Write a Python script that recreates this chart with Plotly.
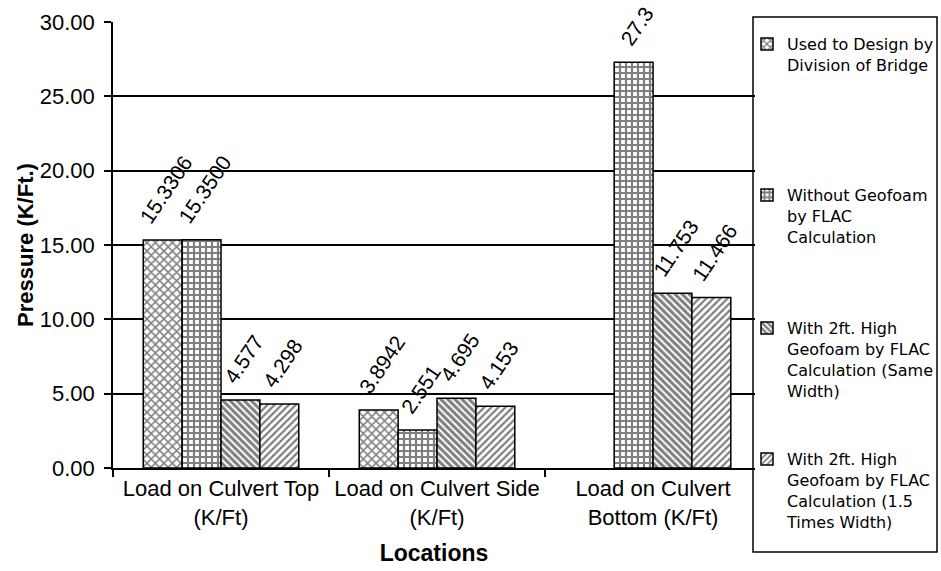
import plotly.graph_objects as go

# Locations along the culvert (category axis)
locations = [
    "Load on Culvert Top<br>(K/Ft)",
    "Load on Culvert Side<br>(K/Ft)",
    "Load on Culvert<br>Bottom (K/Ft)",
]

# Pressure values per method, kept as printed labels (K/Ft)
design_bridge = ["15.3306", "3.8942", None]
without_geofoam = ["15.3500", "2.551", "27.3"]
geofoam_same_width = ["4.577", "4.695", "11.753"]
geofoam_15_width = ["4.298", "4.153", "11.466"]

series_names = [
    "Used to Design by<br>Division of Bridge",
    "Without Geofoam<br>by FLAC<br>Calculation",
    "With 2ft. High<br>Geofoam by FLAC<br>Calculation (Same<br>Width)",
    "With 2ft. High<br>Geofoam by FLAC<br>Calculation (1.5<br>Times Width)",
]

y_ticks = [0, 5, 10, 15, 20, 25, 30]

patterns = [
    dict(shape="x", size=6, solidity=0.45, fgcolor="black", bgcolor="white"),
    dict(shape="+", size=6, solidity=0.6, fgcolor="black", bgcolor="white"),
    dict(shape="\\", size=5, solidity=0.6, fgcolor="black", bgcolor="white"),
    dict(shape="/", size=5, solidity=0.45, fgcolor="black", bgcolor="white"),
]

legend_tops = [27, 178, 311, 442]  # pixel rows of each legend entry
H = 571
LIFT = "\u00a0" * 2  # lifts the rotated value labels off the bar tops

fig = go.Figure()
all_series = [design_bridge, without_geofoam, geofoam_same_width, geofoam_15_width]
for i, (labels, name, pat) in enumerate(zip(all_series, series_names, patterns)):
    vals = [float(s) if s is not None else None for s in labels]
    txt = [LIFT + s if s is not None else "" for s in labels]
    leg = "legend" if i == 0 else f"legend{i + 1}"
    fig.add_trace(go.Bar(
        x=locations, y=vals, name=name,
        text=txt, textposition="outside", textangle=-56,
        constraintext="none", cliponaxis=False,
        textfont=dict(family="Liberation Sans, Arial", size=21, color="black"),
        marker=dict(color="white", pattern=pat,
                    line=dict(color="black", width=1.5)),
        legend=leg,
    ))

legend_style = dict(
    xref="container", yref="container", x=747 / 941, xanchor="left",
    yanchor="top", bgcolor="rgba(0,0,0,0)", borderwidth=0,
    font=dict(family="DejaVu Sans", size=16, color="black"),
    valign="top", itemwidth=30,
)
for i, top in enumerate(legend_tops):
    key = "legend" if i == 0 else f"legend{i + 1}"
    fig.update_layout({key: dict(legend_style, y=1 - top / H)})

# border around the legend column
fig.add_shape(type="rect", xref="paper", yref="paper",
              x0=(753 - 113) / 642, x1=(937 - 113) / 642,
              y0=(468 - 552) / 446, y1=(468 - 17) / 446,
              line=dict(color="black", width=1.5), layer="above")

fig.update_layout(
    width=941, height=571,
    margin=dict(l=113, r=186, t=22, b=103, autoexpand=False),
    paper_bgcolor="white", plot_bgcolor="white",
    barmode="group", bargap=0.28, bargroupgap=0,
    showlegend=True,
    font=dict(family="Liberation Sans, Arial", color="black"),
    xaxis=dict(
        type="category", range=[-0.5, 2.472], tickangle=0,
        tickson="boundaries", ticks="outside", ticklen=7,
        tickcolor="black", tickwidth=1.5,
        showline=True, linecolor="black", linewidth=1.5,
        showgrid=False, automargin=False,
        tickfont=dict(size=22),
        title=dict(text="<b>Locations</b>", font=dict(size=23), standoff=16),
    ),
    yaxis=dict(
        range=[0, 30], tickvals=y_ticks, tickformat=".2f",
        ticks="outside", ticklen=7, tickcolor="black", tickwidth=1.5,
        ticklabelstandoff=5, automargin=False,
        showline=True, linecolor="black", linewidth=1.5,
        showgrid=True, gridcolor="black", gridwidth=1.5, zeroline=False,
        tickfont=dict(size=22),
        title=dict(text="<b>Pressure (K/Ft.)</b>", font=dict(size=22), standoff=0),
    ),
)

fig.write_html("out.html")
